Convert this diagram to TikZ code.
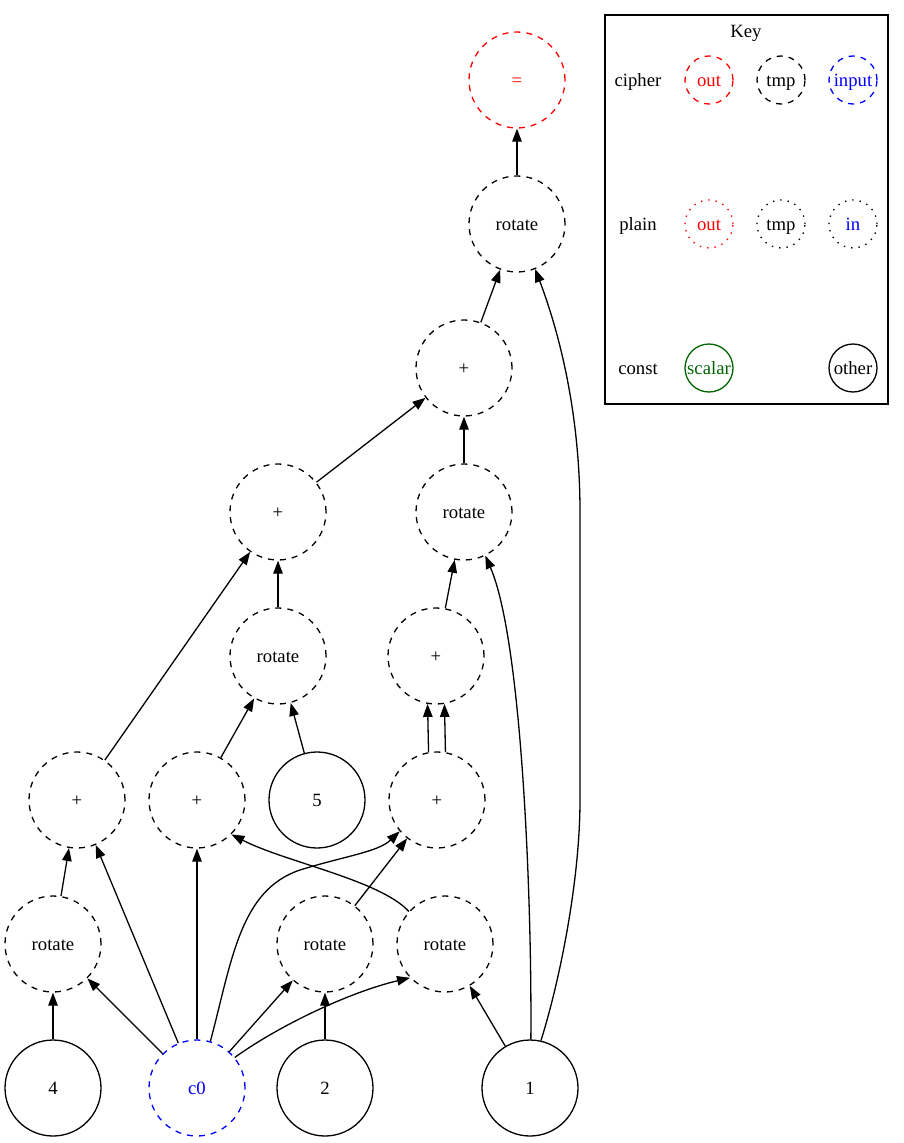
\documentclass[tikz,border=0pt]{standalone}
\usepackage{fontspec}
\setmainfont{Liberation Serif}
\usetikzlibrary{arrows.meta}
\definecolor{scalargreen}{RGB}{0,100,0}
\begin{document}
\begin{tikzpicture}[x=1pt,y=-1pt,
  font=\fontsize{18.7}{22}\selectfont,
  every node/.style={inner sep=0pt,text height=15pt,text depth=2pt},
  op/.style={circle,draw,line width=1.3pt,minimum size=96pt},
  cipher/.style={op,dash pattern=on 6pt off 6pt},
  const/.style={op},
  keycirc/.style={circle,draw,line width=1.3pt,minimum size=48pt},
  keycipher/.style={keycirc,dash pattern=on 6pt off 6pt},
  keyplain/.style={keycirc,dash pattern=on 1.4pt off 6pt},
  arr/.style={line width=1.3pt,-{Triangle[length=13pt,width=9.5pt]}}
]
\useasboundingbox (0,0) rectangle (904,1143);

% operation nodes
\node[cipher,draw=red,text=red] (eq) at (517,80) {=};
\node[cipher] (rot1) at (517,224) {rotate};
\node[cipher] (plus1) at (464,368) {+};
\node[cipher] (plusL) at (278,512) {+};
\node[cipher] (rot2) at (464,512) {rotate};
\node[cipher] (rot3) at (278,656) {rotate};
\node[cipher] (plus2) at (436,656) {+};
\node[cipher] (plusA) at (77,800) {+};
\node[cipher] (plusB) at (197,800) {+};
\node[const] (five) at (317,800) {5};
\node[cipher] (plusC) at (437,800) {+};
\node[cipher] (rotA) at (53,944) {rotate};
\node[cipher] (rotB) at (325,944) {rotate};
\node[cipher] (rotC) at (445,944) {rotate};
\node[const] (four) at (53,1088) {4};
\node[cipher,draw=blue,text=blue] (c0) at (197,1088) {c0};
\node[const] (two) at (325,1088) {2};
\node[const] (one) at (530,1088) {1};

% edges
\draw[arr] (rot1) -- (eq);
\draw[arr] (plus1) -- (rot1);
\draw[arr] (one.77) .. controls (560,980) and (580,880) .. (580,800)
  -- (580,512) .. controls (580,420) and (562,340) .. (rot1.-68);
\draw[arr] (plusL) -- (plus1);
\draw[arr] (rot2) -- (plus1);
\draw[arr] (plusA) -- (plusL);
\draw[arr] (rot3) -- (plusL);
\draw[arr] (plus2) -- (rot2);
\draw[arr] (one.89) .. controls (532,900) and (522,640) .. (rot2.-64);
\draw[arr] (plusB) -- (rot3);
\draw[arr] (five) -- (rot3);
\draw[arr] (plusC.100) -- (plus2.-100);
\draw[arr] (plusC.80) -- (plus2.-80);
\draw[arr] (rotA) -- (plusA);
\draw[arr] (c0) -- (plusA);
\draw[arr] (c0) -- (plusB);
\draw[arr] (rotC.138) .. controls (380,880) and (285,862) .. (plusB.-45);
\draw[arr] (c0.74) .. controls (232,960) and (240,890) .. (300,870)
  .. controls (345,856) and (378,852) .. (plusC.-140);
\draw[arr] (rotB) -- (plusC);
\draw[arr] (four) -- (rotA);
\draw[arr] (c0) -- (rotA);
\draw[arr] (c0) -- (rotB);
\draw[arr] (two) -- (rotB);
\draw[arr] (c0.39) .. controls (280,1025) and (350,992) .. (rotC.-136);
\draw[arr] (one) -- (rotC);

% key
\draw[line width=1.3pt] (605,15) rectangle (888,404);
\node (keytitle) at (746,31) {Key};
\node (kcipher) at (638,80) {cipher};
\node (kplain) at (638,224) {plain};
\node (kconst) at (638,368) {const};
\node[keycipher,draw=red,text=red] (kco) at (709,80) {out};
\node[keycipher] (kct) at (781,80) {tmp};
\node[keycipher,draw=blue,text=blue] (kci) at (853,80) {input};
\node[keyplain,draw=red,text=red] (kpo) at (709,224) {out};
\node[keyplain] (kpt) at (781,224) {tmp};
\node[keyplain,text=blue] (kpi) at (853,224) {in};
\node[keycirc,draw=scalargreen,text=scalargreen] (kscalar) at (709,368) {scalar};
\node[keycirc] (kother) at (853,368) {other};
\end{tikzpicture}
\end{document}
